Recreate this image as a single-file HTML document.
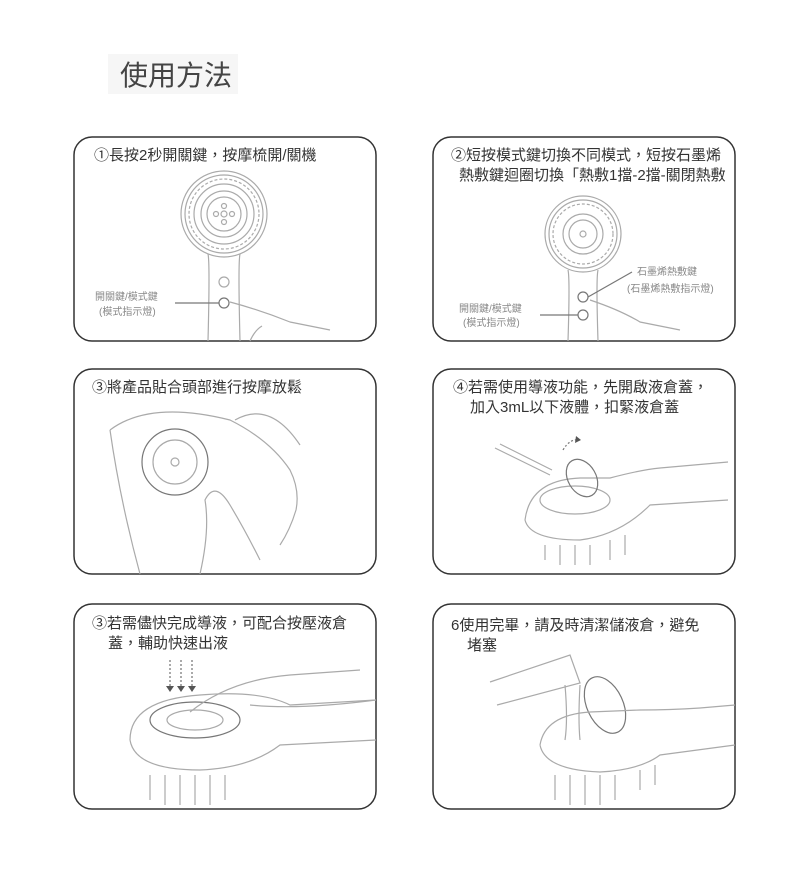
<!DOCTYPE html>
<html><head><meta charset="utf-8"><style>
html,body{margin:0;padding:0;background:#fff;}
svg{display:block;}
text{font-family:"Liberation Sans","Noto Sans CJK TC",sans-serif;fill:#333;}
.l{fill:none;stroke:#aaa;stroke-width:1.2;}
.d{fill:none;stroke:#777;stroke-width:1.2;}
</style></head><body>
<svg width="790" height="885" viewBox="0 0 790 885" xmlns="http://www.w3.org/2000/svg">
<rect x="108" y="54" width="130" height="40" fill="#f6f6f6"/>
<text x="120" y="85" font-size="28" style="fill:#444">使用方法</text>

<g fill="none" stroke="#333" stroke-width="1.5">
<rect x="74" y="137" width="302" height="204" rx="18"/>
<rect x="433" y="137" width="302" height="204" rx="18"/>
<rect x="74" y="369" width="302" height="205" rx="18"/>
<rect x="433" y="369" width="302" height="205" rx="18"/>
<rect x="74" y="604" width="302" height="205" rx="18"/>
<rect x="433" y="604" width="302" height="205" rx="18"/>
</g>

<g font-size="15">
<text x="94" y="160">①長按2秒開關鍵，按摩梳開/關機</text>
<text x="451" y="160">②短按模式鍵切換不同模式，短按石墨烯</text>
<text x="459" y="180">熱敷鍵迴圈切換「熱敷1擋-2擋-關閉熱敷</text>
<text x="92" y="392">③將產品貼合頭部進行按摩放鬆</text>
<text x="453" y="392">④若需使用導液功能，先開啟液倉蓋，</text>
<text x="470" y="412">加入3mL以下液體，扣緊液倉蓋</text>
<text x="92" y="628">③若需儘快完成導液，可配合按壓液倉</text>
<text x="108" y="648">蓋，輔助快速出液</text>
<text x="451" y="630">6使用完畢，請及時清潔儲液倉，避免</text>
<text x="467" y="650">堵塞</text>
</g>

<!-- Panel 1 -->
<circle cx="224" cy="214" r="43" class="l"/><circle cx="224" cy="214" r="39" class="l"/><circle cx="224" cy="214" r="35" class="l" stroke-dasharray="3 2"/>
<circle cx="224" cy="214" r="30" class="l"/>
<circle cx="224" cy="214" r="23" class="l"/><circle cx="224" cy="214" r="17" class="l"/>
<circle cx="224" cy="214" r="3" class="l"/><circle cx="216" cy="214" r="2.5" class="l"/><circle cx="232" cy="214" r="2.5" class="l"/><circle cx="224" cy="206" r="2.5" class="l"/><circle cx="224" cy="222" r="2.5" class="l"/>
<path d="M208 254 Q210 262 208 341 M240 254 Q238 262 240 341" class="l"/>
<circle cx="224" cy="282" r="5" class="l"/><circle cx="224" cy="303" r="5" class="d"/>
<line x1="175" y1="303" x2="219" y2="303" class="d"/>
<path d="M230 302 Q260 310 290 322 L330 330 M250 341 Q255 330 262 326" class="l"/>
<text x="95" y="300" font-size="10" style="fill:#888">開關鍵/模式鍵</text>
<text x="99" y="315" font-size="10" style="fill:#888">(模式指示燈)</text>

<!-- Panel 2 -->
<circle cx="583" cy="234" r="38" class="l"/><circle cx="583" cy="234" r="34" class="l"/><circle cx="583" cy="234" r="30" class="l" stroke-dasharray="3 2"/>
<circle cx="583" cy="234" r="20" class="l"/><circle cx="583" cy="234" r="14" class="l"/>
<circle cx="583" cy="234" r="3" class="l"/>
<path d="M568 270 Q570 278 568 341 M598 270 Q596 278 598 341" class="l"/>
<circle cx="583" cy="297" r="5" class="d"/><circle cx="583" cy="315" r="5" class="d"/>
<line x1="588" y1="297" x2="632" y2="272" class="d"/><line x1="540" y1="315" x2="578" y2="315" class="d"/>
<path d="M590 300 Q620 310 640 322 L680 330" class="l"/>
<text x="637" y="275" font-size="10" style="fill:#888">石墨烯熱敷鍵</text>
<text x="627" y="292" font-size="10" style="fill:#888">(石墨烯熱敷指示燈)</text>
<text x="459" y="312" font-size="10" style="fill:#888">開關鍵/模式鍵</text>
<text x="463" y="326" font-size="10" style="fill:#888">(模式指示燈)</text>

<!-- Panel 3 -->
<circle cx="175" cy="462" r="33" class="d"/><circle cx="175" cy="462" r="22" class="l"/><circle cx="175" cy="462" r="4" class="l"/>
<path d="M110 430 Q150 400 230 420 Q270 440 290 470 Q300 490 296 510 Q290 530 280 545 M235 420 Q270 400 300 445 M110 430 Q120 500 140 574 M200 574 Q210 530 205 500 Q215 480 230 505 Q245 530 260 560" class="l"/>

<!-- Panel 4 -->
<path d="M525 520 Q530 480 580 478 L610 478 Q640 470 660 468 L728 462 M525 520 Q530 540 580 540 Q620 535 650 505 L728 500" class="l"/>
<ellipse cx="575" cy="500" rx="35" ry="14" class="l"/>
<ellipse cx="582" cy="478" rx="14" ry="20" transform="rotate(-30 582 478)" class="d"/>
<path d="M495 448 L550 475 M500 444 L552 470" class="l"/>
<path d="M563 450 Q570 438 580 440" class="d" stroke-dasharray="2 2"/><path d="M576 436 L581 440 L575 443" fill="#555"/>
<path d="M545 545 L545 560 M560 545 L560 565 M575 545 L575 565 M590 545 L590 565 M610 540 L610 560 M625 535 L625 555" class="l"/>

<!-- Panel 5 -->
<g stroke="#555" stroke-dasharray="2 2"><line x1="170" y1="660" x2="170" y2="688"/><line x1="181" y1="660" x2="181" y2="688"/><line x1="192" y1="660" x2="192" y2="688"/></g>
<path d="M166 686 L174 686 L170 692Z M177 686 L185 686 L181 692Z M188 686 L196 686 L192 692Z" fill="#555"/>
<path d="M130 740 Q130 700 200 695 Q260 690 290 705 L376 700 M130 740 Q135 770 200 770 Q250 768 280 745 L376 740" class="l"/>
<ellipse cx="195" cy="720" rx="45" ry="18" class="d"/><ellipse cx="195" cy="720" rx="28" ry="10" class="l"/>
<path d="M190 712 Q230 680 290 675 L360 670 M250 705 Q300 710 376 700" class="l"/>
<path d="M150 775 L150 800 M165 775 L165 805 M180 775 L180 805 M195 775 L195 805 M210 775 L210 805 M225 775 L225 800" class="l"/>

<!-- Panel 6 -->
<path d="M490 682 L570 655 L580 683 L497 705" class="l"/>
<path d="M565 685 Q568 720 565 740 M580 685 Q578 720 580 740" class="l"/>
<ellipse cx="605" cy="705" rx="18" ry="30" transform="rotate(-25 605 705)" class="d"/>
<path d="M540 745 Q545 715 590 712 L640 710 Q670 710 700 708 L735 705 M540 745 Q545 770 600 772 Q640 770 660 755 L735 745" class="l"/>
<path d="M555 775 L555 800 M570 775 L570 805 M585 775 L585 805 M600 775 L600 805 M615 775 L615 800 M640 770 L640 790 M655 765 L655 785" class="l"/>
</svg>
</body></html>
